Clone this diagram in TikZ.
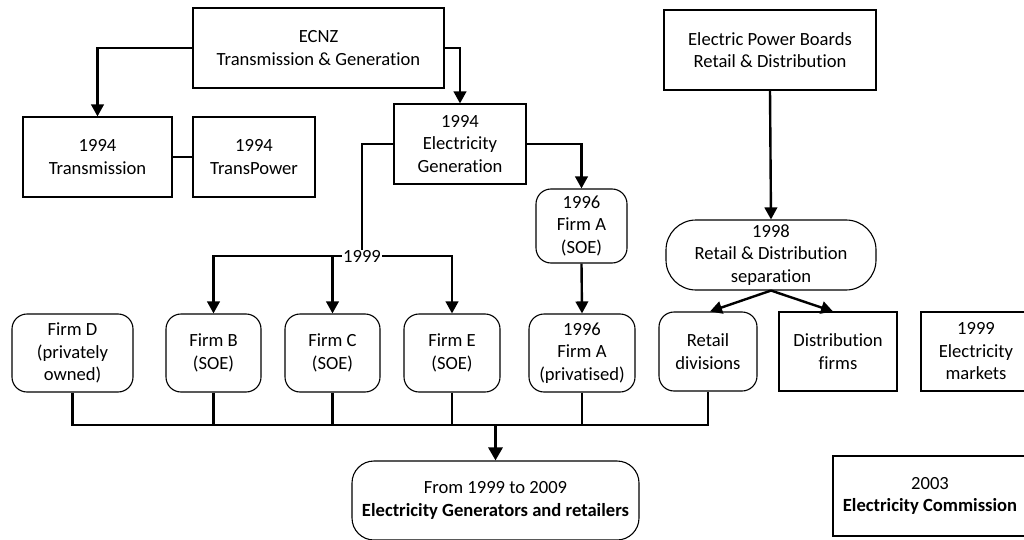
\documentclass[tikz,border=0pt]{standalone}
\usepackage{fontspec}
\setmainfont{Carlito}[Ligatures=NoCommon]
\usetikzlibrary{arrows.meta}
\begin{document}
\begin{tikzpicture}[x=1pt,y=-1pt,
  every node/.style={font=\fontsize{18.6}{22.5}\selectfont, align=center, inner sep=0pt},
  sqbox/.style={draw, line width=1.1pt, minimum width=#1},
  rbox/.style={draw, line width=1.1pt, rounded corners=15pt, minimum width=#1},
  conn/.style={line width=2.4pt},
  arr/.style={conn, -{Triangle[length=12pt,width=12.5pt]}}]
\clip (0,0) rectangle (1024,540);
\fill[white] (0,0) rectangle (1024,540);
% top level
\node[sqbox=251pt, minimum height=80pt] (ecnz) at (318.5,48) {ECNZ\\Transmission \& Generation};
\node[sqbox=212pt, minimum height=80pt] (epb) at (770,50) {Electric Power Boards\\Retail \& Distribution};
% second level
\node[sqbox=149pt, minimum height=80pt] (trans) at (97.5,157) {1994\\Transmission};
\node[sqbox=122pt, minimum height=80pt] (tpow) at (254,157) {1994\\TransPower};
\node[sqbox=132pt, minimum height=80pt] (egen) at (460,144) {1994\\Electricity\\Generation};
\node[rbox=91pt, minimum height=74pt] (faS) at (581.5,226) {1996\\Firm A\\(SOE)};
\node[draw, line width=1.1pt, rounded corners=30pt, minimum width=210pt, minimum height=70pt] (rsep) at (771,255) {1998\\Retail \& Distribution\\separation};
% firm row
\node[rbox=121pt, minimum height=78pt] (firmD) at (72.5,353) {Firm D\\(privately\\owned)};
\node[rbox=95pt, minimum height=78pt] (firmB) at (213.5,353) {Firm B\\(SOE)};
\node[rbox=95pt, minimum height=78pt] (firmC) at (332.5,353) {Firm C\\(SOE)};
\node[rbox=96pt, minimum height=78pt] (firmE) at (452,353) {Firm E\\(SOE)};
\node[rbox=106pt, minimum height=78pt] (faP) at (582,353) {1996\\Firm A\\(privatised)};
\node[rbox=98pt, minimum height=79pt] (retail) at (708,351.5) {Retail\\divisions};
\node[sqbox=118pt, minimum height=79pt] (dist) at (838,351.5) {Distribution\\firms};
\node[sqbox=110pt, minimum height=79pt] (mkts) at (976,351.5) {1999\\Electricity\\markets};
% bottom
\node[draw, line width=1.1pt, rounded corners=22pt, minimum width=287pt, minimum height=79pt] (final) at (495.5,500.5) {From 1999 to 2009\\\textbf{Electricity Generators and retailers}};
\node[draw, line width=2.2pt, minimum width=194pt, minimum height=80pt] (comm) at (930,496) {2003\\\textbf{Electricity Commission}};
% connectors
\draw[arr] (ecnz.west) -| (trans.north);
\draw[arr] (ecnz.east) -| (egen.north);
\draw[conn] (trans.east) -- (tpow.west);
\coordinate (j) at (362,256);
\draw[conn] (egen.west) -| (j);
\draw[arr] (j) -| (firmB.north);
\draw[arr] (j) -| (firmE.north);
\draw[arr] (firmC.north |- j) -- (firmC.north);
\node[fill=white, inner xsep=1pt] (lbl) at (j) {1999};
\draw[arr] (egen.east) -| (faS.north);
\draw[arr] (faS.south) -- (faP.north);
\draw[arr] (epb.south) -- (rsep.north);
\draw[arr] (rsep.south) -- ([xshift=2pt]retail.north);
\draw[arr] (rsep.south) -- ([xshift=-5pt]dist.north);
\coordinate (bus) at (495.5,425);
\draw[conn] (firmD.south) -- (firmD.south |- bus) -- (retail.south |- bus) -- (retail.south);
\draw[conn] (firmB.south) -- (firmB.south |- bus);
\draw[conn] (firmC.south) -- (firmC.south |- bus);
\draw[conn] (firmE.south) -- (firmE.south |- bus);
\draw[conn] (faP.south) -- (faP.south |- bus);
\draw[line width=3pt, -{Triangle[length=13pt,width=14pt]}] (bus) -- (final.north);
\end{tikzpicture}
\end{document}
